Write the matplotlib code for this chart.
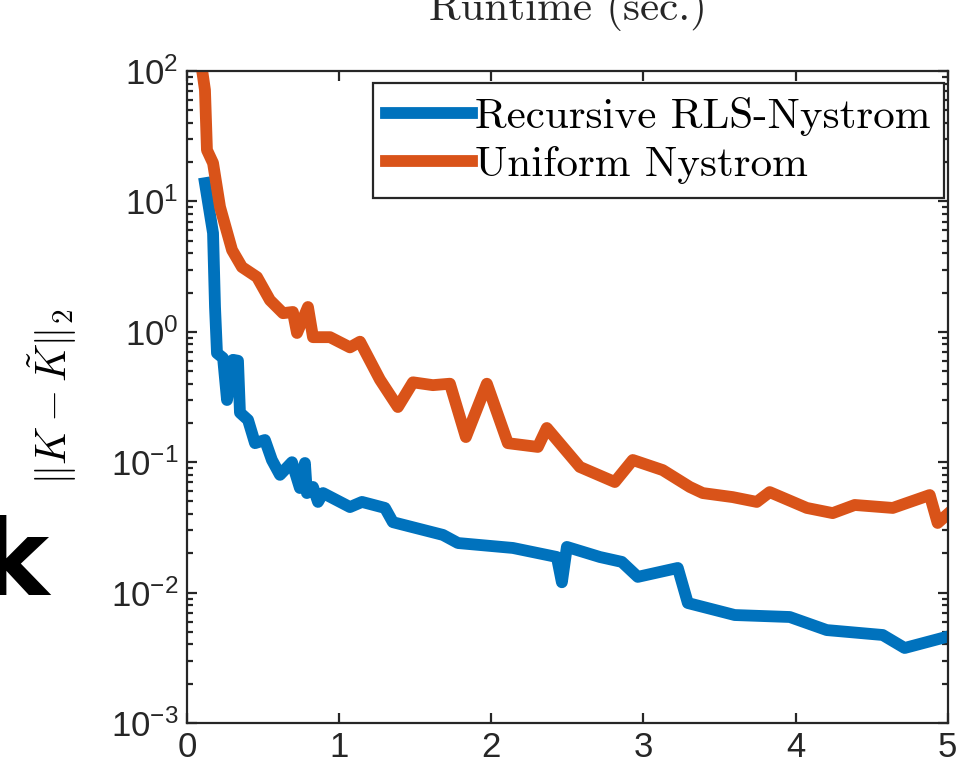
import matplotlib
matplotlib.use('Agg')
import matplotlib.pyplot as plt

plt.rcParams['font.family'] = ['Liberation Sans', 'DejaVu Sans']
plt.rcParams['mathtext.fontset'] = 'cm'
plt.rcParams['axes.unicode_minus'] = False

# Recursive RLS-Nystrom
x_rls = [0.118, 0.171, 0.184, 0.197, 0.237, 0.263, 0.302, 0.335, 0.348, 0.401,
         0.447, 0.512, 0.558, 0.611, 0.690, 0.742, 0.775, 0.788, 0.828, 0.861,
         0.894, 1.071, 1.150, 1.301, 1.353, 1.682, 1.781, 2.142, 2.431, 2.464,
         2.497, 2.714, 2.858, 2.963, 3.226, 3.292, 3.600, 3.962, 4.205, 4.573,
         4.717, 5.0]
y_rls = [13.8, 5.72, 1.55, 0.687, 0.63, 0.30, 0.61, 0.60, 0.24, 0.211,
         0.140, 0.148, 0.104, 0.080, 0.100, 0.0634, 0.0986, 0.058, 0.0646, 0.0496,
         0.058, 0.0453, 0.0496, 0.0446, 0.0347, 0.0277, 0.024, 0.022, 0.01875, 0.0120,
         0.0224, 0.01875, 0.0172, 0.0132, 0.01545, 0.00832, 0.00673, 0.0065, 0.00516, 0.00473,
         0.00376, 0.0046]

# Uniform Nystrom
x_uni = [0.10, 0.118, 0.131, 0.171, 0.217, 0.296, 0.361, 0.460, 0.545, 0.631,
         0.696, 0.723, 0.795, 0.828, 0.940, 1.071, 1.137, 1.268, 1.386, 1.485,
         1.616, 1.728, 1.833, 1.971, 2.109, 2.306, 2.365, 2.582, 2.812, 2.930,
         3.127, 3.305, 3.390, 3.587, 3.745, 3.830, 4.074, 4.244, 4.389, 4.639,
         4.882, 4.934, 5.0]
y_uni = [100, 71.5, 24.8, 19.7, 9.06, 4.24, 3.14, 2.63, 1.75, 1.39,
         1.42, 0.98, 1.55, 0.91, 0.91, 0.76, 0.84, 0.43, 0.265, 0.41,
         0.39, 0.40, 0.156, 0.40, 0.140, 0.131, 0.183, 0.092, 0.0705, 0.104,
         0.087, 0.0646, 0.058, 0.054, 0.0496, 0.059, 0.0446, 0.0407, 0.047, 0.0446,
         0.056, 0.0342, 0.040]

fig = plt.figure(figsize=(9.69, 7.74), dpi=100)
ax = fig.add_axes([0.193, 0.0659, 0.785, 0.8423])

ax.plot(x_rls, y_rls, color='#0072BD', lw=8.5, label='Recursive RLS-Nystrom')
ax.plot(x_uni, y_uni, color='#D95319', lw=8.5, label='Uniform Nystrom')

ax.set_yscale('log')
ax.set_xlim(0, 5)
ax.set_ylim(1e-3, 1e2)
ax.set_xticks([0, 1, 2, 3, 4, 5])
ax.set_yticks([1e-3, 1e-2, 1e-1, 1e0, 1e1, 1e2])

for s in ax.spines.values():
    s.set_linewidth(1.6)
    s.set_color('#262626')
ax.tick_params(which='both', direction='in', top=True, right=True,
               color='#262626', width=1.6, labelsize=25, labelcolor='#262626')
ax.tick_params(which='major', length=7, pad=6)
ax.tick_params(which='minor', length=4)

ax.set_ylabel(r'$\|K - \tilde{K}\|_2$', fontsize=30)
ax.yaxis.set_label_coords(-(187 - 79) / 761, 0.5)

leg = ax.legend(loc='upper right', bbox_to_anchor=(0.995, 0.981),
                prop={'family': 'cmr10', 'size': 31}, frameon=True, fancybox=False,
                framealpha=1, edgecolor='#262626', handlelength=2.0,
                handletextpad=0.05, borderpad=0.32, labelspacing=0.22,
                borderaxespad=0)
leg.get_frame().set_linewidth(1.6)

fig.text(0.586, 1 - 20 / 774, 'Runtime (sec.)', family='cmr10', fontsize=31,
         ha='center', va='baseline', color='#262626')
fig.text(48 / 969, 1 - 595 / 774, 'k', fontsize=76, fontweight='bold',
         family='DejaVu Sans', ha='right', va='baseline', color='black')

fig.savefig('out.png', dpi=100)
